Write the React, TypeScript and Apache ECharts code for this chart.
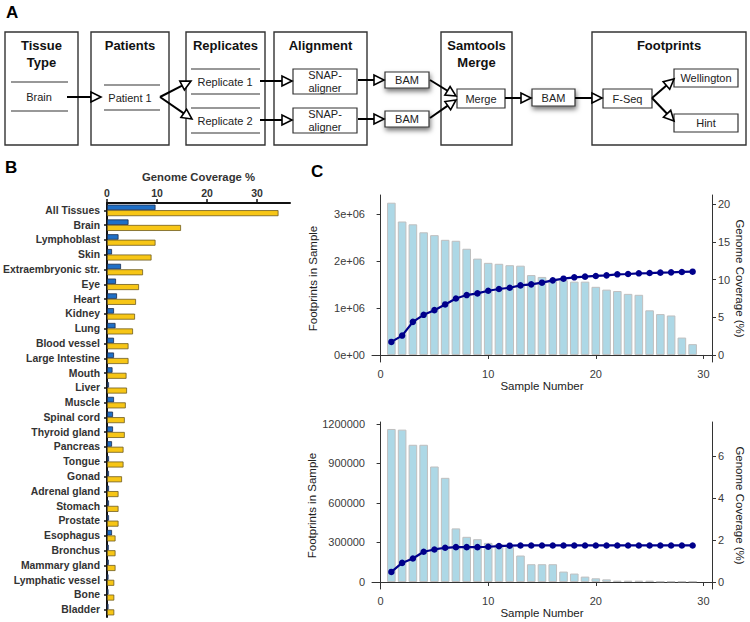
import React, { useEffect, useRef } from "react";
import * as echarts from "echarts";

// ---------- Panel B data ----------
const tissues = [
  "All Tissues", "Brain", "Lymphoblast", "Skin", "Extraembryonic str.", "Eye", "Heart", "Kidney",
  "Lung", "Blood vessel", "Large Intestine", "Mouth", "Liver", "Muscle", "Spinal cord", "Thyroid gland",
  "Pancreas", "Tongue", "Gonad", "Adrenal gland", "Stomach", "Prostate", "Esophagus", "Bronchus",
  "Mammary gland", "Lymphatic vessel", "Bone", "Bladder",
];
const blueCoverage = [
  9.7, 4.3, 2.3, 1.0, 2.8, 1.8, 2.0, 1.4, 1.7, 1.4, 1.4, 1.1, 0.4, 1.4, 1.2, 1.2,
  1.0, 0.4, 0.4, 0.4, 0.4, 0.4, 1.0, 0.35, 0.35, 0.3, 0.3, 0.3,
];
const yellowCoverage = [
  34.3, 14.8, 9.7, 8.9, 7.2, 6.4, 5.8, 5.6, 5.2, 4.3, 4.3, 3.9, 4.0, 3.75, 3.55, 3.55,
  3.3, 3.3, 3.0, 2.3, 2.3, 2.3, 1.7, 1.7, 1.7, 1.45, 1.45, 1.45,
];
const coverageTicks = [0, 10, 20, 30];

// ---------- Panel C data ----------
const sampleNumbers = [
  1, 2, 3, 4, 5, 6, 7, 8, 9, 10, 11, 12, 13, 14, 15, 16, 17, 18, 19, 20,
  21, 22, 23, 24, 25, 26, 27, 28, 29,
];
const sampleTicks = [0, 10, 20, 30];
// top panel
const footprintsTop = [
  3240000, 2840000, 2780000, 2610000, 2550000, 2450000, 2430000, 2260000, 2050000, 1960000,
  1940000, 1910000, 1900000, 1700000, 1660000, 1610000, 1590000, 1560000, 1560000, 1450000,
  1390000, 1360000, 1300000, 1280000, 950000, 870000, 840000, 370000, 230000,
];
const coverageTop = [
  1.73, 2.57, 4.39, 5.32, 5.94, 6.70, 7.49, 7.94, 8.16, 8.51, 8.74, 8.91, 9.22, 9.36, 9.58,
  9.89, 10.11, 10.29, 10.38, 10.47, 10.55, 10.69, 10.73, 10.82, 10.86, 10.91, 10.95, 11.0, 11.04,
];
const footprintTicksTop = [0, 1000000, 2000000, 3000000];
const coverageTicksTop = [0, 5, 10, 15, 20];
// bottom panel
const footprintsBottom = [
  1162000, 1157000, 1042000, 1042000, 877000, 791000, 407000, 343000, 325000, 297000,
  287000, 267000, 201000, 135000, 135000, 135000, 79000, 64000, 41000, 28000,
  20000, 10000, 10000, 10000, 10000, 5000, 5000, 5000, 5000,
];
const coverageBottom = [
  0.48, 0.91, 1.12, 1.44, 1.55, 1.63, 1.66, 1.66, 1.66, 1.68, 1.71, 1.73, 1.74, 1.74, 1.74,
  1.74, 1.74, 1.74, 1.74, 1.74, 1.74, 1.74, 1.74, 1.74, 1.74, 1.74, 1.74, 1.74, 1.74,
];
const footprintTicksBottom = [0, 300000, 600000, 900000, 1200000];
const coverageTicksBottom = [0, 2, 4, 6];

// ---------- Panel A labels ----------
const stageTitles = [["Tissue", "Type"], ["Patients"], ["Replicates"], ["Alignment"], ["Samtools", "Merge"], ["Footprints"]];

const FONT = '"Liberation Sans", Arial, Helvetica, sans-serif';

function txt(x: number, y: number, text: string, size: number, weight: string = "normal", fill: string = "#222", align: string = "center") {
  return {
    type: "text",
    x,
    y,
    silent: true,
    style: {
      text,
      fontSize: size,
      fontWeight: weight,
      fontFamily: FONT,
      fill,
      align,
      verticalAlign: "middle",
      textAlign: align,
      textVerticalAlign: "middle",
    },
  };
}

function hline(x1: number, x2: number, y: number) {
  return { type: "line", silent: true, shape: { x1, y1: y, x2, y2: y }, style: { stroke: "#333", lineWidth: 1.2 } };
}

function box(x: number, y: number, w: number, h: number, lw = 1.3, shadow = false) {
  const style: any = { fill: "#fff", stroke: "#333", lineWidth: lw };
  if (shadow) {
    style.shadowBlur = 5;
    style.shadowOffsetX = 1;
    style.shadowOffsetY = 3;
    style.shadowColor = "rgba(0,0,0,0.55)";
  }
  return { type: "rect", silent: true, shape: { x, y, width: w, height: h }, style };
}

function arrow(x1: number, y1: number, x2: number, y2: number) {
  const headL = 10;
  const headW = 5;
  const dx = x2 - x1;
  const dy = y2 - y1;
  const len = Math.hypot(dx, dy);
  const ux = dx / len;
  const uy = dy / len;
  const bx = x2 - ux * headL;
  const by = y2 - uy * headL;
  const px = -uy;
  const py = ux;
  return [
    { type: "line", silent: true, shape: { x1, y1, x2: bx, y2: by }, style: { stroke: "#000", lineWidth: 2 } },
    {
      type: "polygon",
      silent: true,
      shape: { points: [[x2, y2], [bx + px * headW, by + py * headW], [bx - px * headW, by - py * headW]] },
      style: { fill: "#fff", stroke: "#000", lineWidth: 1.6 },
    },
  ];
}

function buildDiagram(): any[] {
  const els: any[] = [];
  const stageX = [[5, 78], [91, 169], [186, 265], [274, 367], [441, 512], [592, 746]];
  stageX.forEach(([a, b], i) => {
    els.push(box(a, 32, b - a, 113, 1.4));
    const cx = (a + b) / 2;
    stageTitles[i].forEach((t, j) => els.push(txt(cx, 45 + j * 17, t, 13, "bold", "#111")));
  });
  // Tissue type
  els.push(hline(11, 68, 82), hline(11, 68, 111), txt(39, 97, "Brain", 11));
  // Patients
  els.push(hline(104, 160, 85), hline(104, 160, 110), txt(130, 98, "Patient 1", 11));
  // Replicates
  els.push(hline(191, 260, 69), hline(191, 260, 94), hline(191, 260, 108), hline(191, 260, 133));
  els.push(txt(225, 82, "Replicate 1", 11), txt(225, 121, "Replicate 2", 11));
  // Alignment
  els.push(box(293, 69, 64, 25, 1.2), box(293, 108, 64, 25, 1.2));
  els.push(txt(325, 75, "SNAP-", 11), txt(325, 88, "aligner", 11));
  els.push(txt(325, 114, "SNAP-", 11), txt(325, 127, "aligner", 11));
  // BAM boxes
  els.push(box(385, 72, 44, 16, 1.2, true), box(385, 111, 44, 16, 1.2, true));
  els.push(txt(407, 80, "BAM", 11), txt(407, 119, "BAM", 11));
  // Merge
  els.push(box(457, 89, 48, 19, 1.2), txt(481, 98.5, "Merge", 11));
  els.push(box(532, 89, 43, 17, 1.2, true), txt(553.5, 97.5, "BAM", 11));
  // Footprints
  els.push(box(603, 89, 49, 19, 1.2), txt(627.5, 98.5, "F-Seq", 11));
  els.push(box(674, 69, 64, 18, 1.2), txt(706, 78, "Wellington", 11));
  els.push(box(674, 114, 64, 18, 1.2), txt(706, 123, "Hint", 11));
  // arrows
  els.push(...arrow(67, 97, 101, 97));
  els.push(...arrow(160, 97, 191, 81));
  els.push(...arrow(160, 97, 192, 119));
  els.push(...arrow(260, 81, 292, 81));
  els.push(...arrow(260, 120, 292, 120));
  els.push(...arrow(358, 80, 384, 80));
  els.push(...arrow(358, 119, 384, 119));
  els.push(...arrow(430, 80, 456, 96));
  els.push(...arrow(430, 118, 456, 100));
  els.push(...arrow(505, 98, 531, 98));
  els.push(...arrow(575, 98, 602, 98));
  els.push(...arrow(652, 98, 674, 79));
  els.push(...arrow(652, 98, 674, 121));
  // Panel letters
  els.push(txt(6, 12, "A", 17, "bold", "#000", "left"));
  els.push(txt(5, 167, "B", 17, "bold", "#000", "left"));
  els.push(txt(311, 171.5, "C", 17, "bold", "#000", "left"));
  return els;
}

const axisC = "#333";
const labelC = "#3a3a3a";

function sampleXAxis(gridIndex: number) {
  return {
    gridIndex,
    type: "value",
    min: -0.8,
    max: 30.8,
    name: "Sample Number",
    nameLocation: "middle",
    nameGap: 18,
    nameTextStyle: { fontSize: 11.5, color: "#222", fontFamily: FONT },
    axisLine: { show: true, lineStyle: { color: axisC, width: 1 } },
    axisTick: { show: true, length: 4, customValues: sampleTicks, lineStyle: { color: axisC } },
    axisLabel: { customValues: sampleTicks, fontSize: 11, color: labelC, margin: 6, fontFamily: FONT },
    splitLine: { show: false },
  };
}

function leftYAxis(gridIndex: number, min: number, max: number, ticks: number[], fmt: (v: number) => string) {
  return {
    gridIndex,
    type: "value",
    position: "left",
    min,
    max,
    name: "Footprints in Sample",
    nameLocation: "middle",
    nameGap: 53,
    nameTextStyle: { fontSize: 11.5, color: "#222", fontFamily: FONT },
    axisLine: { show: true, lineStyle: { color: axisC, width: 1 } },
    axisTick: { show: true, length: 4, customValues: ticks, lineStyle: { color: axisC } },
    axisLabel: { customValues: ticks, fontSize: 11, color: labelC, margin: 7, formatter: fmt, fontFamily: FONT },
    splitLine: { show: false },
  };
}

function rightYAxis(gridIndex: number, min: number, max: number, ticks: number[]) {
  return {
    gridIndex,
    type: "value",
    position: "right",
    min,
    max,
    name: "Genome Coverage (%)",
    nameLocation: "middle",
    nameRotate: -90,
    nameGap: 22,
    nameTextStyle: { fontSize: 11.5, color: "#222", fontFamily: FONT },
    axisLine: { show: true, lineStyle: { color: axisC, width: 1 } },
    axisTick: { show: true, length: 4, customValues: ticks, lineStyle: { color: axisC } },
    axisLabel: { customValues: ticks, fontSize: 11, color: labelC, margin: 6, fontFamily: FONT },
    splitLine: { show: false },
  };
}

export default function App() {
  const ref = useRef<HTMLDivElement>(null);
  useEffect(() => {
    document.body.style.margin = "0";
    if (!ref.current) return;
    const chart = echarts.init(ref.current, undefined, { renderer: "svg" });
    const barStyleC = { color: "#add8e6", borderColor: "#bfbfbf", borderWidth: 1 };
    const lineStyleC = { color: "#00008b", width: 2.2 };
    const option: any = {
      animation: false,
      backgroundColor: "#fff",
      textStyle: { fontFamily: FONT },
      grid: [
        { left: 106, top: 203, width: 184, height: 414 },
        { left: 372, top: 195, width: 340, height: 167 },
        { left: 372, top: 422, width: 340, height: 167 },
      ],
      xAxis: [
        {
          gridIndex: 0,
          type: "value",
          position: "top",
          min: 0,
          max: 36.6,
          name: "Genome Coverage %",
          nameLocation: "middle",
          nameGap: 20,
          nameTextStyle: { fontSize: 11.3, fontWeight: "bold", color: "#333", fontFamily: FONT },
          axisLine: { show: true, lineStyle: { color: "#111", width: 2 } },
          axisTick: { show: true, length: 4, customValues: coverageTicks, lineStyle: { color: "#111", width: 1.5 } },
          axisLabel: { customValues: coverageTicks, fontSize: 10.5, fontWeight: "bold", color: "#333", margin: 5, fontFamily: FONT },
          splitLine: { show: false },
        },
        sampleXAxis(1),
        sampleXAxis(2),
      ],
      yAxis: [
        {
          gridIndex: 0,
          type: "category",
          data: tissues,
          inverse: true,
          axisLine: { show: true, lineStyle: { color: "#111", width: 2 } },
          axisTick: { show: true, length: 3, alignWithLabel: true, lineStyle: { color: "#111", width: 1.5 } },
          axisLabel: { fontSize: 10.4, fontWeight: "bold", color: "#333", margin: 7, fontFamily: FONT },
          splitLine: { show: false },
        },
        leftYAxis(1, -150000, 3404000, footprintTicksTop, (v: number) => (v === 0 ? "0e+00" : `${v / 1000000}e+06`)),
        rightYAxis(1, -0.93, 21.2, coverageTicksTop),
        leftYAxis(2, -53200, 1215000, footprintTicksBottom, (v: number) => String(v)),
        rightYAxis(2, -0.333, 7.62, coverageTicksBottom),
      ],
      series: [
        {
          type: "bar",
          name: "blue",
          xAxisIndex: 0,
          yAxisIndex: 0,
          data: blueCoverage,
          barWidth: 5.5,
          barGap: "0%",
          itemStyle: { color: "#1f6fc6", borderColor: "#1c2c4c", borderWidth: 0.8 },
        },
        {
          type: "bar",
          name: "yellow",
          xAxisIndex: 0,
          yAxisIndex: 0,
          data: yellowCoverage,
          barWidth: 6,
          barGap: "0%",
          itemStyle: { color: "#f7c616", borderColor: "#6e5c20", borderWidth: 0.8 },
        },
        {
          type: "bar",
          xAxisIndex: 1,
          yAxisIndex: 1,
          data: sampleNumbers.map((s, i) => [s, footprintsTop[i]]),
          barWidth: 8.6,
          itemStyle: barStyleC,
        },
        {
          type: "line",
          xAxisIndex: 1,
          yAxisIndex: 2,
          data: sampleNumbers.map((s, i) => [s, coverageTop[i]]),
          symbol: "circle",
          symbolSize: 6.5,
          lineStyle: lineStyleC,
          itemStyle: { color: "#00008b" },
          z: 5,
        },
        {
          type: "bar",
          xAxisIndex: 2,
          yAxisIndex: 3,
          data: sampleNumbers.map((s, i) => [s, footprintsBottom[i]]),
          barWidth: 8.6,
          itemStyle: barStyleC,
        },
        {
          type: "line",
          xAxisIndex: 2,
          yAxisIndex: 4,
          data: sampleNumbers.map((s, i) => [s, coverageBottom[i]]),
          symbol: "circle",
          symbolSize: 6.5,
          lineStyle: lineStyleC,
          itemStyle: { color: "#00008b" },
          z: 5,
        },
      ],
      graphic: { elements: buildDiagram() },
    };
    chart.setOption(option);
    return () => chart.dispose();
  }, []);
  return <div ref={ref} style={{ width: 750, height: 622 }} />;
}
